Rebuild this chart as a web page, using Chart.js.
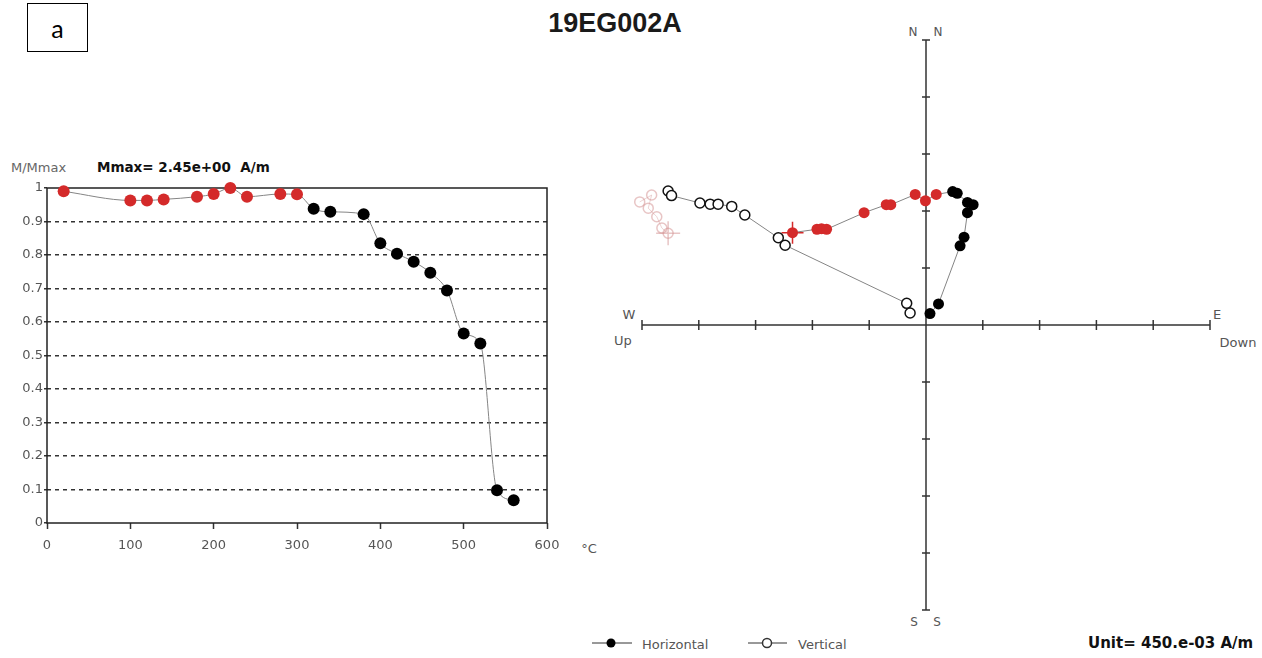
<!DOCTYPE html>
<html>
<head>
<meta charset="utf-8">
<title>19EG002A</title>
<script src="https://cdn.jsdelivr.net/npm/chart.js@4.4.1/dist/chart.umd.min.js"></script>
<style>
  html, body { margin: 0; padding: 0; background: #fff; }
  #page { position: relative; width: 1262px; height: 658px; overflow: hidden; }
  canvas { position: absolute; }
  .lbl {
    position: absolute; white-space: nowrap; line-height: 1;
    transform: translate(-50%, -50%);
    font-family: "DejaVu Sans", sans-serif; font-size: 12px; color: #555;
  }
  .lbl.l { transform: translate(0, -50%); }
  .bold { font-weight: bold; color: #111; }
  .title { font-family: "Liberation Sans", Arial, sans-serif; font-size: 27px; font-weight: bold; color: #1a1a1a; }
  .box {
    position: absolute; left: 27px; top: 3px; width: 59px; height: 47px;
    border: 1.5px solid #000; font-family: Lato, sans-serif; font-size: 25px;
    display: flex; align-items: center; justify-content: center; color: #000;
  }
</style>
</head>
<body>
<div id="page">
  <div class="box">a</div>
  <div class="lbl title" style="left:615px;top:23px">19EG002A</div>

  <div class="lbl l" style="left:11px;top:167px;font-size:13px;color:#666">M/Mmax</div>
  <div class="lbl l bold" style="left:97px;top:168px;font-size:13.5px">Mmax= 2.45e+00&nbsp; A/m</div>
  <div class="lbl" style="left:589px;top:548px;font-size:13px">°C</div>

  <div class="lbl" style="left:913px;top:32px">N</div>
  <div class="lbl" style="left:938px;top:32px">N</div>
  <div class="lbl" style="left:914px;top:622px">S</div>
  <div class="lbl" style="left:937px;top:622px">S</div>
  <div class="lbl" style="left:629px;top:314px;font-size:13px">W</div>
  <div class="lbl" style="left:623px;top:340px;font-size:13px">Up</div>
  <div class="lbl" style="left:1217px;top:314px;font-size:13px">E</div>
  <div class="lbl" style="left:1238px;top:342px;font-size:13px">Down</div>

  <div class="lbl l" style="left:642px;top:644px;font-size:13px">Horizontal</div>
  <div class="lbl l" style="left:798px;top:644px;font-size:13px">Vertical</div>
  <div class="lbl l bold" style="left:1088px;top:643px;font-size:15px">Unit= 450.e-03 A/m</div>

  <canvas id="decayChart" width="620" height="420" style="left:0;top:150px"></canvas>
  <canvas id="zijChart" width="682" height="658" style="left:580px;top:0"></canvas>
</div>

<script>
// Demagnetisation steps (°C) and normalised intensity M/Mmax
const temps = [20, 100, 120, 140, 180, 200, 220, 240, 280, 300, 320, 340, 380, 400, 420, 440, 460, 480, 500, 520, 540, 560];
const mRatio = [0.99, 0.963, 0.963, 0.966, 0.974, 0.982, 1.0, 0.974, 0.982, 0.981, 0.938, 0.929, 0.922, 0.835, 0.804, 0.78, 0.747, 0.694, 0.566, 0.536, 0.098, 0.068];
const lowTempMax = 300; // steps drawn in red

// Orthogonal projection, in axis units (one tick = one unit of 450e-3 A/m)
const horizE = [-2.35, -1.92, -1.84, -1.75, -1.09, -0.70, -0.62, -0.19, -0.01, 0.18, 0.47, 0.55, 0.73, 0.83, 0.73, 0.67, 0.60, 0.22, 0.07];
const horizN = [1.62, 1.68, 1.69, 1.68, 1.97, 2.11, 2.11, 2.29, 2.18, 2.29, 2.34, 2.31, 2.15, 2.11, 1.97, 1.54, 1.39, 0.37, 0.20];
const lowStepCount = 10;
const vertE = [-4.54, -4.48, -3.98, -3.80, -3.66, -3.42, -3.19, -2.60, -2.48, -0.34, -0.28];
const vertUp = [2.35, 2.27, 2.14, 2.12, 2.12, 2.08, 1.93, 1.53, 1.40, 0.38, 0.21];
// faded (rejected) steps at the far left
const ghostE = [-5.04, -4.83, -4.89, -4.74, -4.65, -4.54];
const ghostUp = [2.16, 2.28, 2.05, 1.90, 1.70, 1.61];
const zijTicks = [-5, -4, -3, -2, -1, 0, 1, 2, 3, 4, 5];

const RED = "#d42a2a";
const LINE_GREY = "#858585";
const TICK_FONT = { family: "DejaVu Sans", size: 13 };

const frame = {
  id: "frame",
  beforeDatasetsDraw(chart) {
    const { ctx, chartArea: a } = chart;
    ctx.save();
    ctx.strokeStyle = "#222";
    ctx.lineWidth = 1.5;
    ctx.strokeRect(a.left, a.top, a.right - a.left, a.bottom - a.top);
    ctx.restore();
  },
};

const decayColors = temps.map((t) => (t <= lowTempMax ? RED : "#000"));

new Chart(document.getElementById("decayChart"), {
  type: "line",
  data: {
    datasets: [
      {
        data: temps.map((t, i) => ({ x: t, y: mRatio[i] })),
        borderColor: LINE_GREY,
        borderWidth: 1,
        cubicInterpolationMode: "monotone",
        pointRadius: 6,
        pointHoverRadius: 6,
        pointBackgroundColor: decayColors,
        pointBorderColor: decayColors,
        pointBorderWidth: 0,
        clip: false,
      },
    ],
  },
  options: {
    responsive: false,
    animation: false,
    devicePixelRatio: 1,
    events: [],
    layout: { padding: { left: 0, right: 73, top: 38, bottom: 12 } },
    plugins: { legend: { display: false }, tooltip: { enabled: false } },
    scales: {
      x: {
        type: "linear",
        min: 0,
        max: 600,
        afterFit(s) { s.height = 35; },
        ticks: { stepSize: 100, color: "#555", font: TICK_FONT, padding: 9, maxRotation: 0 },
        grid: { drawOnChartArea: false, drawTicks: true, tickLength: 6, tickColor: "#333", tickWidth: 1.5 },
        border: { display: false },
      },
      y: {
        min: 0,
        max: 1,
        afterFit(s) { s.width = 47; },
        ticks: {
          stepSize: 0.1,
          color: "#555",
          font: TICK_FONT,
          padding: 1,
          callback: (v) => String(Math.round(v * 10) / 10),
        },
        grid: {
          color: (c) => (c.tick && c.tick.value > 0.001 && c.tick.value < 0.999 ? "#333" : "rgba(0,0,0,0)"),
          lineWidth: 1.5,
          tickLength: 3,
          tickColor: "#333",
        },
        border: { display: false, dash: [4, 4] },
      },
    },
  },
  plugins: [frame],
});

// Axes through the origin, tick marks and legend symbols
const zijAxes = {
  id: "zijAxes",
  beforeDatasetsDraw(chart) {
    const { ctx, scales: { x, y } } = chart;
    const x0 = x.getPixelForValue(0);
    const y0 = y.getPixelForValue(0);
    const first = zijTicks[0];
    const last = zijTicks[zijTicks.length - 1];
    ctx.save();
    ctx.strokeStyle = "#333";
    ctx.lineWidth = 1.5;
    ctx.beginPath();
    ctx.moveTo(x.getPixelForValue(first), y0);
    ctx.lineTo(x.getPixelForValue(last), y0);
    ctx.moveTo(x0, y.getPixelForValue(last));
    ctx.lineTo(x0, y.getPixelForValue(first));
    zijTicks.forEach((t) => {
      if (t === 0) return;
      const px = x.getPixelForValue(t);
      ctx.moveTo(px, y0 - 5);
      ctx.lineTo(px, y0 + 5);
      const py = y.getPixelForValue(t);
      ctx.moveTo(x0 - 4, py);
      ctx.lineTo(x0 + 4, py);
    });
    ctx.stroke();

    // legend symbols
    ctx.lineWidth = 1;
    ctx.strokeStyle = "#333";
    ctx.beginPath();
    ctx.moveTo(12, 643);
    ctx.lineTo(52, 643);
    ctx.moveTo(168, 643);
    ctx.lineTo(207, 643);
    ctx.stroke();
    ctx.fillStyle = "#000";
    ctx.beginPath();
    ctx.arc(31, 643, 4.5, 0, Math.PI * 2);
    ctx.fill();
    ctx.fillStyle = "#fff";
    ctx.lineWidth = 1.5;
    ctx.beginPath();
    ctx.arc(187, 643, 4.5, 0, Math.PI * 2);
    ctx.fill();
    ctx.stroke();
    ctx.restore();
  },
};

const toPoints = (xs, ys) => xs.map((v, i) => ({ x: v, y: ys[i] }));
const horizPts = toPoints(horizE, horizN);
const ghostPts = toPoints(ghostE, ghostUp);
const horizColors = horizPts.map((p, i) => (i < lowStepCount ? RED : "#000"));
const GHOST = "rgba(214,150,150,0.55)";

new Chart(document.getElementById("zijChart"), {
  type: "scatter",
  data: {
    datasets: [
      {
        data: ghostPts,
        showLine: true,
        borderColor: "rgba(220,170,170,0.5)",
        borderWidth: 1,
        pointRadius: 5,
        pointBackgroundColor: "rgba(0,0,0,0)",
        pointBorderColor: GHOST,
        pointBorderWidth: 1.5,
        clip: false,
      },
      {
        data: ghostPts.slice(-1),
        pointStyle: "cross",
        pointRadius: 12,
        pointBorderColor: GHOST,
        pointBorderWidth: 1.5,
        clip: false,
      },
      {
        data: toPoints(vertE, vertUp),
        showLine: true,
        borderColor: LINE_GREY,
        borderWidth: 1,
        pointRadius: 5,
        pointBackgroundColor: "#fff",
        pointBorderColor: "#111",
        pointBorderWidth: 1.5,
        clip: false,
      },
      {
        data: horizPts,
        showLine: true,
        borderColor: LINE_GREY,
        borderWidth: 1,
        pointRadius: 5.5,
        pointBackgroundColor: horizColors,
        pointBorderColor: horizColors,
        pointBorderWidth: 0,
        clip: false,
      },
      {
        data: horizPts.slice(0, 1),
        pointStyle: "cross",
        pointRadius: 11,
        pointBorderColor: RED,
        pointBorderWidth: 1.5,
        clip: false,
      },
    ],
  },
  options: {
    responsive: false,
    animation: false,
    devicePixelRatio: 1,
    events: [],
    layout: { padding: { left: 62, right: 52, top: 40, bottom: 48 } },
    plugins: { legend: { display: false }, tooltip: { enabled: false } },
    scales: {
      x: { type: "linear", display: false, min: -5, max: 5 },
      y: { type: "linear", display: false, min: -5, max: 5 },
    },
  },
  plugins: [zijAxes],
});
</script>
</body>
</html>
